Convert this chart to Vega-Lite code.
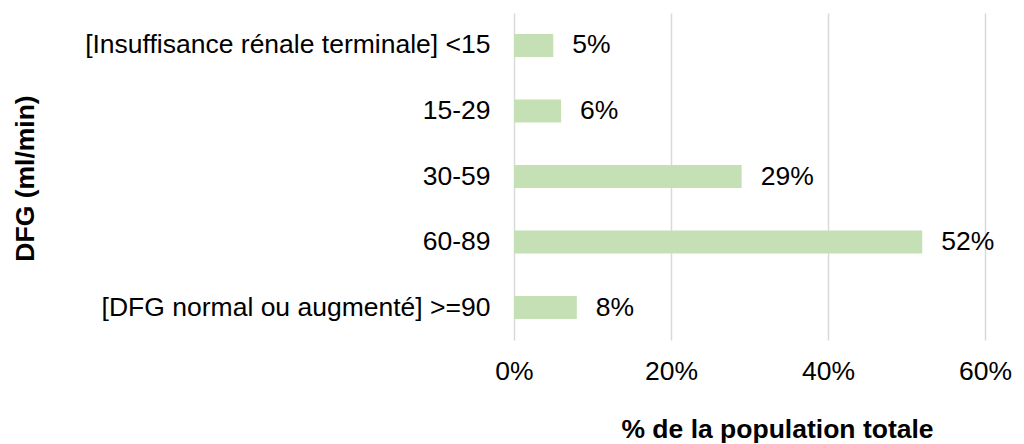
{
  "$schema": "https://vega.github.io/schema/vega-lite/v6.json",
  "width": 471,
  "height": 327,
  "autosize": "none",
  "padding": {"left": 514, "top": 13, "right": 39, "bottom": 104},
  "background": "white",
  "config": {"view": {"stroke": null}, "font": "Liberation Sans"},
  "data": {"values": [
    {"cat": "[Insuffisance rénale terminale] <15", "v": 0.05, "label": "5%"},
    {"cat": "15-29", "v": 0.06, "label": "6%"},
    {"cat": "30-59", "v": 0.29, "label": "29%"},
    {"cat": "60-89", "v": 0.52, "label": "52%"},
    {"cat": "[DFG normal ou augmenté] >=90", "v": 0.08, "label": "8%"}
  ]},
  "encoding": {
    "y": {"field": "cat", "type": "nominal", "sort": null,
      "scale": {"paddingInner": 0.65, "paddingOuter": 0.32},
      "axis": {"title": "DFG (ml/min)", "titleFont": "Liberation Sans", "titleFontWeight": "bold", "titleFontSize": 26.5, "titleColor": "#000000",
        "titleX": -489, "titleY": 165, "titleAngle": -90, "titleAlign": "center", "titleBaseline": "middle",
        "labelFontSize": 26.5, "labelColor": "#000000", "labelPadding": 24, "ticks": false, "domain": false, "labelLimit": 500}},
    "x": {"field": "v", "type": "quantitative",
      "scale": {"domain": [0, 0.6], "nice": false},
      "axis": {"format": ".0%", "values": [0, 0.2, 0.4, 0.6], "title": "% de la population totale",
        "titleFontWeight": "bold", "titleFontSize": 26.5, "titleColor": "#000000", "titleX": 263, "titleY": 89, "titleAlign": "center", "titleBaseline": "middle",
        "labelFontSize": 26.5, "labelColor": "#000000", "labelPadding": 18, "labelFlush": false, "ticks": false, "domain": false,
        "gridColor": "#d9d9d9", "gridWidth": 1.5}}
  },
  "layer": [
    {"mark": {"type": "bar", "color": "#c5e0b4"}},
    {"mark": {"type": "text", "align": "left", "baseline": "middle", "dx": 19, "fontSize": 26.5, "color": "#000000"},
     "encoding": {"text": {"field": "label"}}}
  ]
}
